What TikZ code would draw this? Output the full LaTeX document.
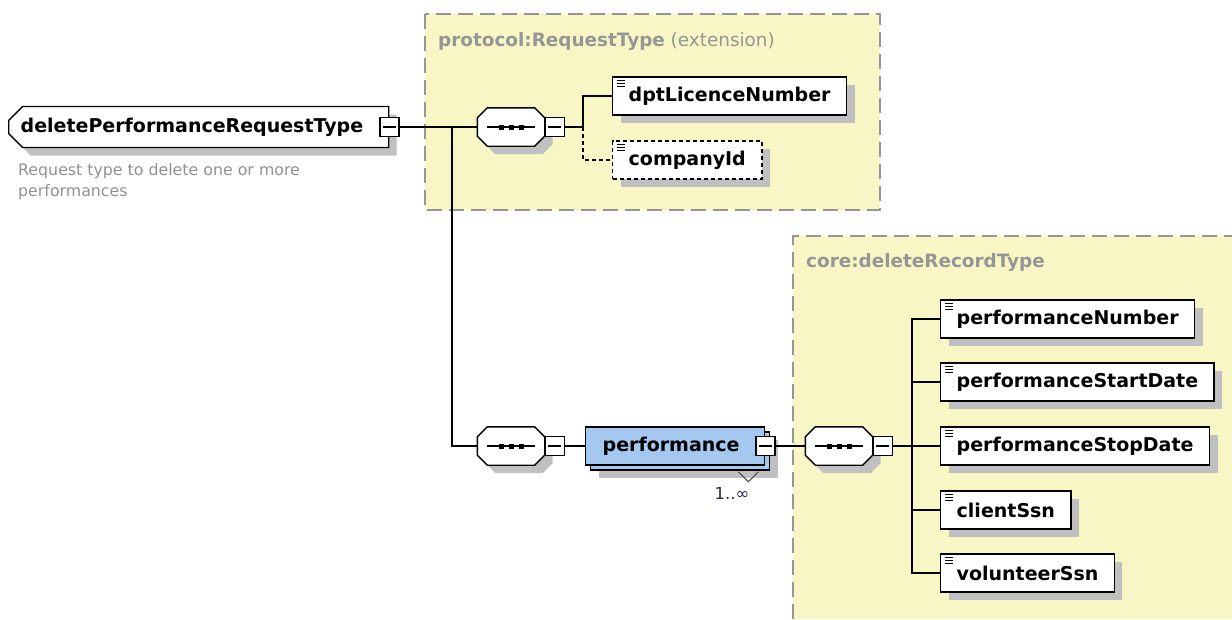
\documentclass[tikz,border=0pt]{standalone}
\usepackage{fontspec}
\setmainfont{DejaVu Sans}
\usetikzlibrary{shapes.misc,positioning}

\definecolor{groupfill}{RGB}{248,246,196}
\definecolor{groupline}{RGB}{150,150,150}
\definecolor{shadowgray}{RGB}{192,192,192}
\definecolor{elemblue}{RGB}{164,200,240}
\definecolor{desctext}{RGB}{145,145,145}
\definecolor{occurtext}{RGB}{40,40,70}

\newcommand{\xsdlabelfont}{\bfseries\fontsize{19}{22}\selectfont}
% octagon outline round a sequence node
\newcommand{\octpath}[1]{([xshift=10pt]#1.north west) -- ([xshift=-10pt]#1.north east) -- ([yshift=-10pt]#1.north east)
	-- ([yshift=10pt]#1.south east) -- ([xshift=-10pt]#1.south east) -- ([xshift=10pt]#1.south west)
	-- ([yshift=10pt]#1.south west) -- ([yshift=-10pt]#1.north west) -- cycle}
\newcommand{\seqbody}[1]{%
	\fill[shadowgray, transform canvas={shift={(8pt,-8pt)}}] \octpath{#1};
	\draw[line width=1.4pt, fill=white] \octpath{#1};
	\draw[line width=1.3pt] ([xshift=10pt]#1.west) -- ([xshift=-10pt]#1.east);
	\foreach \dx in {-10,0,10}
		\fill ([xshift=\dx pt]#1.center) +(-2.5pt,-2.5pt) rectangle +(2.5pt,2.5pt);}

\begin{document}
\begin{tikzpicture}[x=1pt,y=-1pt]
	\tikzstyle{group} = [draw=groupline, fill=groupfill, line width=1.4pt, dash pattern=on 15pt off 7pt]
	\tikzstyle{grouplabel} = [anchor=west, text=groupline, font=\fontsize{18.4}{22}\selectfont, inner sep=0pt]
	\tikzstyle{boxshadow} = [preaction={fill=shadowgray, transform canvas={shift={(8pt,-8pt)}}}]
	\tikzstyle{elem} = [rectangle, draw, fill=white, line width=1.4pt, anchor=west, minimum height=38pt, inner xsep=16pt, inner ysep=0pt, font=\xsdlabelfont, boxshadow,
		path picture={\foreach \dy in {3,6,9}
			\draw[solid, line width=1pt] ([xshift=4pt,yshift=-\dy pt]path picture bounding box.north west) -- ++(8pt,0pt);}]
	\tikzstyle{minusbox} = [rectangle, draw, fill=white, line width=1.3pt, minimum size=19pt, inner sep=0pt,
		path picture={\draw[line width=1.2pt] ([xshift=3pt]path picture bounding box.west) -- ([xshift=-3pt]path picture bounding box.east);}]
	\tikzstyle{seq} = [rectangle, minimum width=67pt, minimum height=38pt, inner sep=0pt]
	\tikzstyle{conn} = [line width=1.3pt]

	\useasboundingbox (0,0) rectangle (1232,619);

	% extension groups
	\draw[group] (425,14) rectangle (880,210);
	\fill[groupfill] (793,236) rectangle (1232,619);
	\draw[groupline, line width=1.4pt, dash pattern=on 15pt off 7pt] (793,619) -- (793,236) -- (1232,236);
	\node[grouplabel] (reqlabel) at (438,41) {\textbf{protocol:RequestType} (extension)};
	\node[grouplabel] (corelabel) at (806,262) {\textbf{core:deleteRecordType}};

	% root type
	\node[chamfered rectangle, chamfered rectangle corners={north west,south west}, chamfered rectangle sep=7pt,
		draw, fill=white, line width=1.4pt, anchor=west, minimum width=366pt, minimum height=41pt,
		text width=356pt, align=left, inner xsep=5pt, inner ysep=0pt, font=\xsdlabelfont, boxshadow]
		(root) at (8,127) {deletePerformanceRequestType};
	\node[minusbox] (rootminus) at (root.east) {};
	\node[anchor=north west, align=left, text=desctext, font=\fontsize{15.8}{21}\selectfont, inner sep=0pt]
		(rootdesc) at (18,163) {Request type to delete one or more\\performances};

	% protocol sequence
	\node[seq] (seq1) at (511,127) {};
	\seqbody{seq1}
	\node[minusbox, right=0pt of seq1] (seq1minus) {};
	\node[elem] (dpt) at (612,96) {dptLicenceNumber};
	\node[elem, dash pattern=on 4pt off 3pt] (company) at (612,160) {companyId};
	\coordinate (split1) at (583,127);

	% performance list
	\node[seq] (seq2) at (511,446) {};
	\seqbody{seq2}
	\node[minusbox, right=0pt of seq2] (seq2minus) {};
	\node[rectangle, draw, fill=elemblue, line width=1.4pt, anchor=west, minimum width=179pt, minimum height=38pt,
		text width=145pt, align=left, inner xsep=17pt, inner ysep=0pt, font=\xsdlabelfont,
		preaction={fill=shadowgray, transform canvas={shift={(13pt,-13pt)}}},
		preaction={draw, fill=elemblue, transform canvas={shift={(5pt,-5pt)}}}]
		(perf) at (585,446) {performance};
	\node[minusbox] (perfminus) at (perf.east) {};
	\draw[line width=1pt, black!70] ([shift={(-27,6)}]perf.south east) -- ++(10,10) -- ++(10,-10);
	\node[text=occurtext, font=\fontsize{16.5}{18}\selectfont, inner sep=0pt] (occurs) at (732,493) {1..∞};

	% record sequence
	\node[seq] (seq3) at (839,446) {};
	\seqbody{seq3}
	\node[minusbox, right=0pt of seq3] (seq3minus) {};
	\coordinate (split3) at (912,446);
	\node[elem] (pnum) at (940,319) {performanceNumber};
	\node[elem] (pstart) at (940,382) {performanceStartDate};
	\node[elem] (pstop) at (940,446) {performanceStopDate};
	\node[elem] (client) at (940,510) {clientSsn};
	\node[elem] (vol) at (940,573) {volunteerSsn};

	% connectors
	\draw[conn] (rootminus.east) -- (seq1.west);
	\coordinate (fork) at (452,127);
	\draw[conn] (fork) |- (seq2.west);
	\draw[conn] (seq1minus.east) -- (split1);
	\draw[conn] (split1) |- (dpt.west);
	\draw[conn, dash pattern=on 4pt off 3pt] (split1) |- (company.west);
	\draw[conn] (seq2minus.east) -- (perf.west);
	\draw[conn] (perfminus.east) -- (seq3.west);
	\draw[conn] (seq3minus.east) -- (split3);
	\foreach \n in {pnum,pstart,pstop,client,vol}
		\draw[conn] (split3) |- (\n.west);
\end{tikzpicture}
\end{document}
